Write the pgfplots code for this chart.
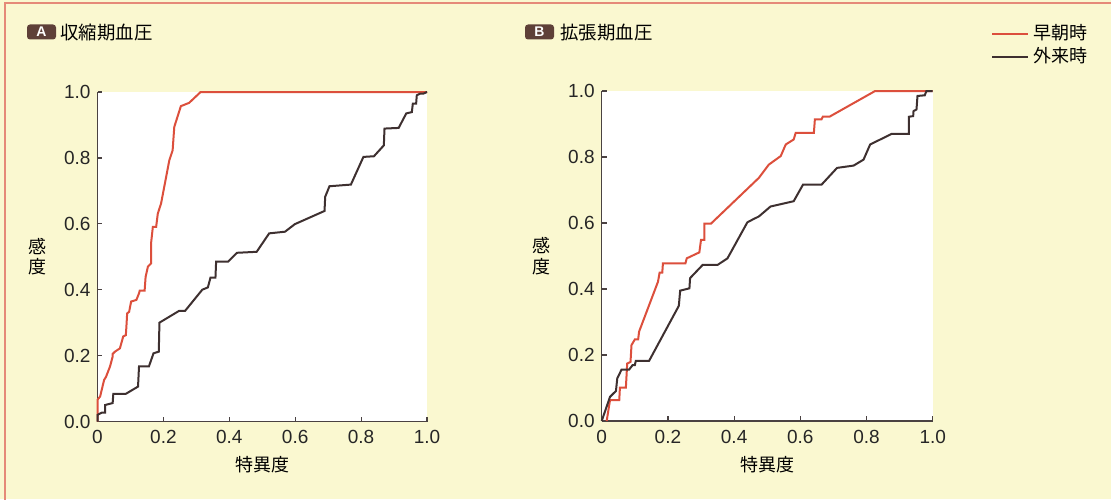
\documentclass[border=0pt]{standalone}
\usepackage{pgfplots}
\pgfplotsset{compat=1.18}
\usepackage{fontspec}
\setmainfont{Liberation Sans}
\newfontfamily\jp{Noto Sans CJK JP}
\definecolor{bg}{HTML}{FAF8D0}
\definecolor{frame}{HTML}{E58A78}
\definecolor{redl}{HTML}{DC4F3C}
\definecolor{darkl}{HTML}{3E3030}
\definecolor{boxc}{HTML}{5E4038}
\definecolor{axc}{HTML}{4A4242}

\pgfplotstableread{
x y
0 0
0 0.066
0.008 0.076
0.02 0.126
0.026 0.136
0.038 0.167
0.046 0.197
0.046 0.205
0.053 0.212
0.068 0.222
0.078 0.258
0.086 0.262
0.088 0.293
0.090 0.328
0.096 0.333
0.102 0.364
0.118 0.369
0.126 0.389
0.128 0.397
0.143 0.397
0.146 0.439
0.153 0.470
0.163 0.480
0.163 0.545
0.168 0.591
0.178 0.591
0.183 0.631
0.193 0.662
0.218 0.793
0.228 0.823
0.233 0.894
0.253 0.957
0.278 0.967
0.313 1.0
1.0 1.0
}\redA

\pgfplotstableread{
x y
0 0
0 0.02
0.013 0.027
0.023 0.027
0.023 0.05
0.046 0.056
0.048 0.084
0.086 0.084
0.123 0.106
0.126 0.167
0.156 0.167
0.17 0.207
0.186 0.212
0.188 0.30
0.248 0.336
0.266 0.336
0.318 0.40
0.335 0.407
0.343 0.437
0.358 0.437
0.36 0.485
0.396 0.485
0.423 0.512
0.483 0.515
0.521 0.571
0.569 0.576
0.599 0.599
0.689 0.639
0.691 0.682
0.704 0.714
0.769 0.719
0.807 0.803
0.839 0.805
0.869 0.838
0.871 0.889
0.914 0.891
0.937 0.935
0.954 0.939
0.957 0.965
0.967 0.965
0.969 0.99
0.979 0.995
0.989 0.995
1.0 1.0
}\blackA

\pgfplotstableread{
x y
0.015 0
0.025 0.063
0.053 0.063
0.055 0.101
0.073 0.101
0.077 0.174
0.087 0.179
0.09 0.23
0.10 0.247
0.11 0.247
0.113 0.271
0.17 0.422
0.175 0.45
0.183 0.45
0.185 0.478
0.253 0.478
0.257 0.493
0.295 0.511
0.30 0.549
0.31 0.549
0.31 0.598
0.33 0.598
0.475 0.737
0.505 0.777
0.541 0.803
0.556 0.838
0.58 0.853
0.586 0.873
0.641 0.873
0.644 0.914
0.664 0.914
0.668 0.922
0.688 0.922
0.826 1.0
1.0 1.0
}\redB

\pgfplotstableread{
x y
0 0
0.025 0.073
0.043 0.091
0.047 0.129
0.06 0.156
0.083 0.156
0.093 0.169
0.1 0.169
0.103 0.182
0.143 0.182
0.233 0.349
0.237 0.395
0.265 0.402
0.267 0.433
0.305 0.473
0.35 0.473
0.38 0.493
0.44 0.602
0.455 0.61
0.475 0.62
0.51 0.65
0.58 0.666
0.608 0.716
0.664 0.716
0.711 0.767
0.761 0.774
0.791 0.792
0.811 0.838
0.876 0.87
0.928 0.87
0.928 0.922
0.941 0.924
0.942 0.939
0.951 0.944
0.954 0.985
0.976 0.987
0.981 1.0
1.0 1.0
}\blackB

\pgfplotsset{
  rocax/.style={
    scale only axis,
    xmin=0, xmax=1, ymin=0, ymax=1,
    axis lines=left,
    axis line style={-, axc, line width=0.75pt},
    axis background/.style={fill=white},
    tick align=inside,
    major tick length=2.4pt,
    tick style={axc, line width=0.6pt},
    xtick={0,0.2,0.4,0.6,0.8,1.0},
    xticklabels={0,0.2,0.4,0.6,0.8,1.0},
    ytick={0,0.2,0.4,0.6,0.8,1.0},
    yticklabels={0.0,0.2,0.4,0.6,0.8,1.0},
    tick label style={font=\fontsize{9.5}{10}\selectfont, text=black!85},
    /pgf/number format/assume math mode=true,
    xticklabel style={yshift=-1pt},
    xlabel={\jp 特異度},
    xlabel style={at={(axis description cs:0.5,-0.132)}, anchor=center, font=\fontsize{9}{10}\selectfont},
    ylabel={\jp\shortstack{感\\[-1pt]度}},
    ylabel style={at={(axis description cs:-0.182,0.5)}, anchor=center, rotate=-90, font=\fontsize{9}{10}\selectfont},
    clip=false,
  }
}

\begin{document}
\begin{tikzpicture}[x=1pt,y=1pt]
\useasboundingbox (0pt,0pt) rectangle (555.5pt,249.5pt);
\fill[bg] (0pt,0pt) rectangle (555.5pt,249.5pt);
\draw[frame, line width=0.8pt] (2.5pt,-10pt) -- (2.5pt,248pt) -- (570pt,248pt);

% titles
\node[fill=boxc, rounded corners=1.5pt, minimum width=14.5pt, minimum height=7.5pt, inner sep=0pt, text=white, font=\fontsize{7}{7}\selectfont\bfseries] at (20.75pt,233.5pt) {A};
\node[anchor=west, inner sep=0pt, font=\fontsize{9.2}{10}\selectfont] at (30pt,233pt) {\jp 収縮期血圧};
\node[fill=boxc, rounded corners=1.5pt, minimum width=14.5pt, minimum height=7.5pt, inner sep=0pt, text=white, font=\fontsize{7}{7}\selectfont\bfseries] at (269.75pt,233.5pt) {B};
\node[anchor=west, inner sep=0pt, font=\fontsize{9.2}{10}\selectfont] at (280pt,233pt) {\jp 拡張期血圧};

\begin{axis}[rocax, at={(48.75pt,38.75pt)}, anchor=south west, width=164.75pt, height=164.75pt]
\addplot[redl, line width=1pt] table[x=x,y=y] {\redA};
\addplot[darkl, line width=1pt] table[x=x,y=y] {\blackA};
\end{axis}

\begin{axis}[rocax, at={(300.85pt,39pt)}, anchor=south west, width=165.5pt, height=165pt,
  legend style={at={(axis description cs:1.176,1.215)}, anchor=north west, draw=none, fill=none,
    font=\fontsize{9}{10}\selectfont, row sep=-1.5pt, inner sep=0pt,
    /tikz/every even column/.append style={column sep=10.5pt}},
  legend cell align=left,
  legend image code/.code={\draw[#1] (0pt,0pt) -- (18pt,0pt);}]
\addplot[redl, line width=1pt] table[x=x,y=y] {\redB};
\addlegendentry{\jp 早朝時}
\addplot[darkl, line width=1pt] table[x=x,y=y] {\blackB};
\addlegendentry{\jp 外来時}
\end{axis}
\end{tikzpicture}
\end{document}
